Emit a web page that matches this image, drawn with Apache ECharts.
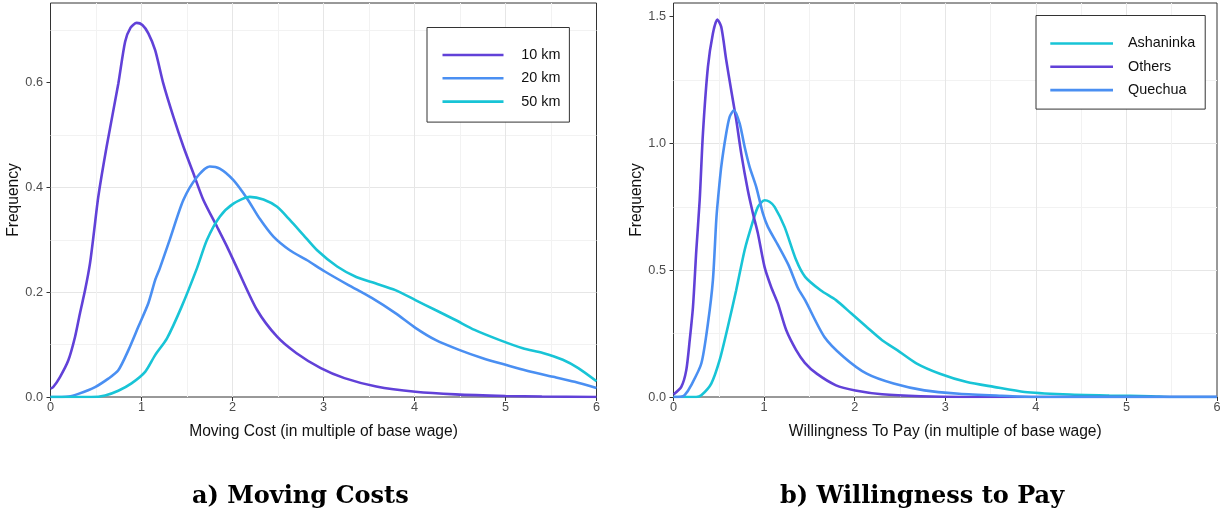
<!DOCTYPE html>
<html>
<head>
<meta charset="utf-8">
<script src="https://cdn.jsdelivr.net/npm/echarts@6/dist/echarts.min.js"></script>
<style>
html,body{margin:0;padding:0;background:#fff;}
#chart{width:1225px;height:513px;}
</style>
</head>
<body>
<div id="chart"></div>
<script>
// ---------- DATA ----------
const xTickValues = [0, 1, 2, 3, 4, 5, 6];
const leftYTicks = [0, 0.2, 0.4, 0.6];
const rightYTicks = [0, 0.5, 1.0, 1.5];

const leftNames = ['10 km', '20 km', '50 km'];
const rightNames = ['Ashaninka', 'Others', 'Quechua'];

// Moving costs (left panel)
const km10X = [0, 0.03, 0.104, 0.196, 0.27, 0.324, 0.38, 0.434, 0.48, 0.525, 0.617, 0.745, 0.82, 0.88, 0.947, 1.01, 1.075, 1.15, 1.24, 1.35, 1.46, 1.57, 1.68, 1.83, 1.94, 2.05, 2.27, 2.49, 2.7, 2.97, 3.23, 3.58, 4.01, 4.45, 5.0, 5.4, 6];
const km10Y = [0.016, 0.019, 0.038, 0.07, 0.115, 0.16, 0.204, 0.255, 0.318, 0.382, 0.478, 0.598, 0.678, 0.705, 0.714, 0.71, 0.694, 0.662, 0.598, 0.535, 0.478, 0.427, 0.376, 0.325, 0.287, 0.246, 0.166, 0.115, 0.084, 0.055, 0.036, 0.02, 0.01, 0.005, 0.002, 0.001, 0];

const km20X = [0, 0.2, 0.306, 0.49, 0.635, 0.745, 0.855, 0.965, 1.075, 1.15, 1.2, 1.31, 1.46, 1.61, 1.75, 1.86, 2.01, 2.16, 2.3, 2.45, 2.63, 2.82, 3.01, 3.27, 3.53, 3.79, 4.01, 4.23, 4.49, 4.75, 5.01, 5.28, 5.54, 5.76, 6];
const km20Y = [0, 0.001, 0.006, 0.019, 0.035, 0.051, 0.089, 0.134, 0.179, 0.223, 0.245, 0.3, 0.376, 0.42, 0.44, 0.436, 0.414, 0.379, 0.34, 0.306, 0.28, 0.261, 0.24, 0.214, 0.189, 0.16, 0.132, 0.109, 0.09, 0.074, 0.061, 0.048, 0.038, 0.029, 0.017];

const km50X = [0, 0.45, 0.6, 0.745, 0.89, 1.04, 1.15, 1.28, 1.44, 1.61, 1.72, 1.86, 2.01, 2.19, 2.34, 2.49, 2.63, 2.78, 2.93, 3.15, 3.36, 3.57, 3.79, 4.01, 4.23, 4.45, 4.66, 4.93, 5.19, 5.41, 5.63, 5.8, 6];
const km50Y = [0, 0, 0.003, 0.012, 0.026, 0.048, 0.08, 0.112, 0.172, 0.246, 0.3, 0.344, 0.369, 0.382, 0.377, 0.363, 0.338, 0.309, 0.28, 0.249, 0.229, 0.217, 0.204, 0.185, 0.166, 0.147, 0.128, 0.109, 0.093, 0.084, 0.071, 0.055, 0.03];

// Willingness to pay (right panel)
const ashX = [0, 0.25, 0.307, 0.417, 0.509, 0.6, 0.692, 0.785, 0.858, 0.932, 1.005, 1.06, 1.116, 1.226, 1.354, 1.453, 1.624, 1.794, 1.964, 2.133, 2.303, 2.474, 2.686, 2.941, 3.239, 3.536, 3.876, 4.3, 4.81, 5.27, 5.5, 6];
const ashY = [0, 0, 0.007, 0.053, 0.145, 0.277, 0.421, 0.579, 0.671, 0.75, 0.776, 0.77, 0.75, 0.671, 0.54, 0.474, 0.421, 0.382, 0.329, 0.276, 0.224, 0.184, 0.132, 0.092, 0.059, 0.04, 0.02, 0.011, 0.006, 0.003, 0, 0];

const othX = [0, 0.086, 0.141, 0.179, 0.215, 0.252, 0.289, 0.325, 0.38, 0.435, 0.483, 0.527, 0.582, 0.637, 0.693, 0.748, 0.82, 0.877, 0.932, 1.005, 1.078, 1.152, 1.244, 1.354, 1.45, 1.581, 1.794, 2.007, 2.303, 2.728, 3.2, 6];
const othY = [0.01, 0.04, 0.106, 0.224, 0.355, 0.579, 0.776, 1.04, 1.302, 1.434, 1.489, 1.46, 1.329, 1.21, 1.092, 0.96, 0.816, 0.724, 0.645, 0.513, 0.434, 0.369, 0.264, 0.185, 0.135, 0.092, 0.046, 0.026, 0.011, 0.003, 0, 0];

const queX = [0, 0.08, 0.123, 0.196, 0.307, 0.38, 0.435, 0.472, 0.49, 0.527, 0.582, 0.62, 0.667, 0.73, 0.785, 0.84, 0.913, 0.987, 1.042, 1.152, 1.27, 1.373, 1.453, 1.666, 1.879, 2.133, 2.43, 2.77, 3.153, 3.62, 4.0, 6];
const queY = [0, 0.001, 0.007, 0.047, 0.132, 0.29, 0.461, 0.697, 0.776, 0.908, 1.04, 1.105, 1.131, 1.079, 0.987, 0.908, 0.829, 0.724, 0.671, 0.6, 0.52, 0.43, 0.382, 0.237, 0.158, 0.092, 0.053, 0.026, 0.013, 0.005, 0, 0];

// ---------- STYLE ----------
const PURPLE = '#6141d8', BLUE = '#4a8ff2', CYAN = '#18c4d6';
const FONT = '"Liberation Sans", Arial, sans-serif';
const MAJOR = '#e6e6e6', MINOR = '#f2f2f2';

function zip(xs, ys) { return xs.map((x, i) => [x, ys[i]]); }

function xAxisDef(gi, name) {
  return {
    type: 'value', gridIndex: gi, position: 'bottom', min: 0, max: 6, interval: 1,
    name: name, nameLocation: 'middle', nameGap: 27,
    nameTextStyle: { fontFamily: FONT, fontSize: 15.6, color: '#111' },
    axisLine: { show: false },
    axisTick: { show: true, length: 4, lineStyle: { color: '#333', width: 1 }, customValues: xTickValues },
    axisLabel: { fontFamily: FONT, fontSize: 12.7, color: '#4d4d4d', margin: 3.5, customValues: xTickValues },
    splitLine: { show: true, showMinLine: false, showMaxLine: false, lineStyle: { color: MAJOR, width: 1 } },
    minorTick: { show: false, splitNumber: 2 },
    minorSplitLine: { show: true, lineStyle: { color: MINOR, width: 1 } }
  };
}
function yMajor(gi, max, interval, ticks) {
  return {
    type: 'value', gridIndex: gi, position: 'left', min: 0, max: max, interval: interval,
    name: 'Frequency', nameLocation: 'middle', nameGap: 26,
    nameTextStyle: { fontFamily: FONT, fontSize: 15.6, color: '#111' },
    axisLine: { show: false },
    axisTick: { show: true, length: 4, lineStyle: { color: '#333', width: 1 }, customValues: ticks },
    axisLabel: { fontFamily: FONT, fontSize: 12.7, color: '#4d4d4d', margin: 7.5, customValues: ticks,
                 formatter: v => Number(v).toFixed(1) },
    splitLine: { show: true, showMinLine: false, showMaxLine: false, lineStyle: { color: MAJOR, width: 1 } }
  };
}
function yMinor(gi, max, interval) {
  return {
    type: 'value', gridIndex: gi, position: 'left', min: 0, max: max, interval: interval,
    axisLine: { show: false }, axisTick: { show: false }, axisLabel: { show: false },
    splitLine: { show: true, showMaxLine: false, lineStyle: { color: ['rgba(0,0,0,0)', MINOR], width: 1 } }
  };
}
function lineSeries(name, xi, yi, xs, ys, color) {
  return {
    name: name, type: 'line', xAxisIndex: xi, yAxisIndex: yi,
    data: zip(xs, ys), showSymbol: false, symbol: 'none',
    smooth: 0.25,
    lineStyle: { color: color, width: 2.6 }, itemStyle: { color: color },
    z: 5
  };
}
function legendDef(names, left, top, itemW, pad, textPad) {
  return {
    data: names, orient: 'vertical', left: left, top: top,
    icon: 'rect', itemWidth: itemW, itemHeight: 2.6, itemGap: 7.3,
    padding: pad, borderColor: '#333', borderWidth: 1, backgroundColor: '#fff',
    textStyle: { fontFamily: FONT, fontSize: 14.4, color: '#111', lineHeight: 16, padding: [0, 0, 0, textPad] },
    selectedMode: false
  };
}

const chart = echarts.init(document.getElementById('chart'), null, { renderer: 'canvas' });
chart.setOption({
  animation: false,
  backgroundColor: '#fff',
  grid: [
    { left: 50.5, top: 3, width: 546, height: 394, show: true, borderColor: '#333', borderWidth: 1,
      backgroundColor: 'transparent', containLabel: false, outerBoundsMode: 'none' },
    { left: 673.5, top: 3, width: 543.5, height: 394, show: true, borderColor: '#333', borderWidth: 1,
      backgroundColor: 'transparent', containLabel: false, outerBoundsMode: 'none' }
  ],
  xAxis: [
    xAxisDef(0, 'Moving Cost (in multiple of base wage)'),
    xAxisDef(1, 'Willingness To Pay (in multiple of base wage)')
  ],
  yAxis: [
    yMinor(0, 0.752, 0.1),
    yMajor(0, 0.752, 0.2, leftYTicks),
    yMinor(1, 1.554, 0.25),
    yMajor(1, 1.554, 0.5, rightYTicks)
  ],
  legend: [
    legendDef(leftNames, 427, 27.5, 61, [19.5, 9, 12.5, 15.5], 12.7),
    legendDef(rightNames, 1036, 15.5, 62.7, [20, 10, 11, 14.3], 10)
  ],
  series: [
    lineSeries('10 km', 0, 1, km10X, km10Y, PURPLE),
    lineSeries('20 km', 0, 1, km20X, km20Y, BLUE),
    lineSeries('50 km', 0, 1, km50X, km50Y, CYAN),
    lineSeries('Ashaninka', 1, 3, ashX, ashY, CYAN),
    lineSeries('Others', 1, 3, othX, othY, PURPLE),
    lineSeries('Quechua', 1, 3, queX, queY, BLUE)
  ],
  graphic: [
    { type: 'text', x: 300.3, y: 496.5, style: { text: 'a) Moving Costs', align: 'center', verticalAlign: 'middle',
      textAlign: 'center', textVerticalAlign: 'middle', font: 'bold 24px "DejaVu Serif", serif', fill: '#000' } },
    { type: 'text', x: 922, y: 496.5, style: { text: 'b) Willingness to Pay', align: 'center', verticalAlign: 'middle',
      textAlign: 'center', textVerticalAlign: 'middle', font: 'bold 24px "DejaVu Serif", serif', fill: '#000' } }
  ]
});
</script>
</body>
</html>
